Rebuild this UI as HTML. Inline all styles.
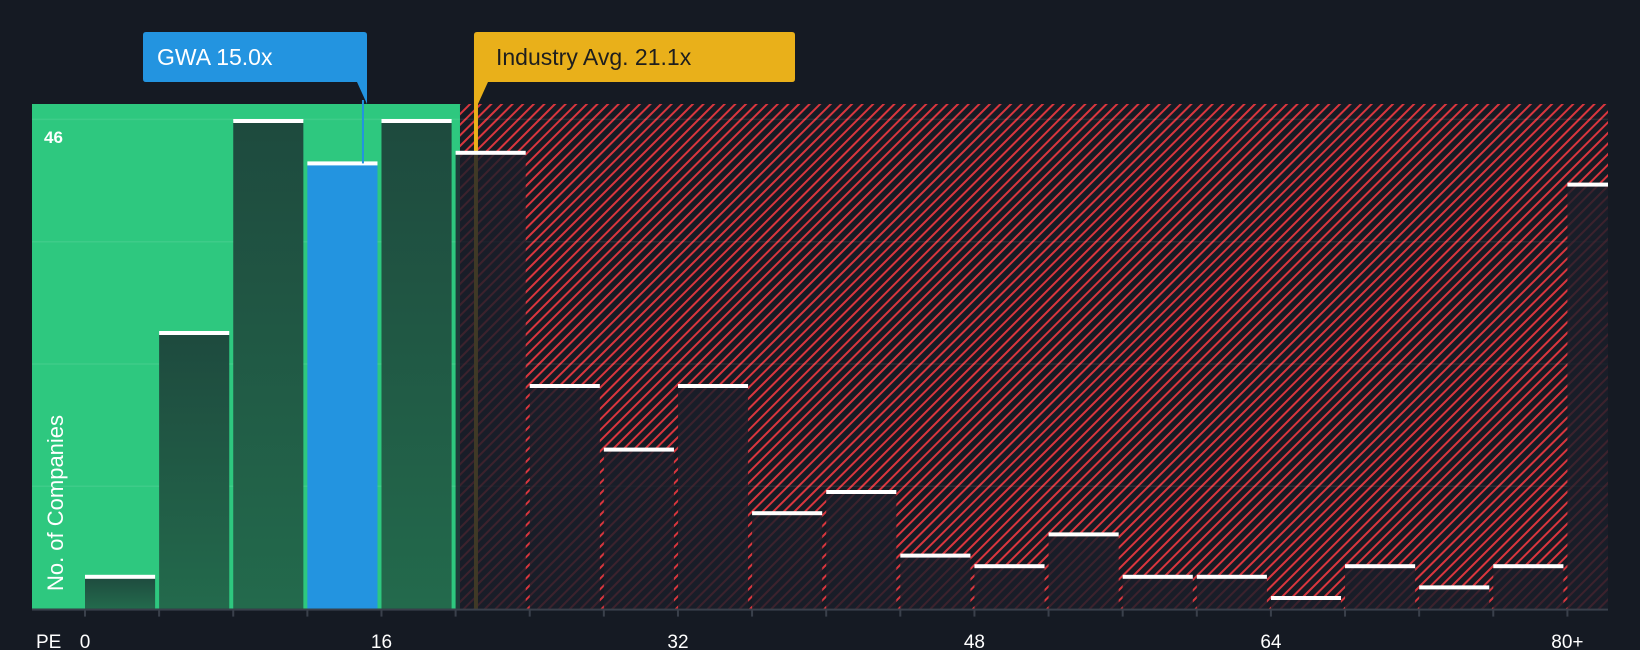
<!DOCTYPE html>
<html><head><meta charset="utf-8"><style>
html,body{margin:0;padding:0;background:#151a23;}
svg{display:block;font-family:"Liberation Sans",sans-serif;}
</style></head><body>
<svg id="chart" width="1640" height="650" viewBox="0 0 1640 650" xmlns="http://www.w3.org/2000/svg">
<defs>
<pattern id="hatch" patternUnits="userSpaceOnUse" width="7.5" height="7.5" patternTransform="rotate(45)">
<rect width="7.5" height="7.5" fill="#161b24"/>
<rect x="0" y="0" width="2" height="7.5" fill="#d9363e"/>
</pattern>
<linearGradient id="gbar" x1="0" y1="0" x2="0" y2="1">
<stop offset="0" stop-color="#1e4a3e"/><stop offset="1" stop-color="#236a4c"/>
</linearGradient>
</defs>
<g id="plot"></g>
</svg>
<script>
const binStarts = [0,4,8,12,16,20,24,28,32,36,40,44,48,52,56,60,64,68,72,76,80];
const counts = [3,26,46,42,46,43,21,15,21,9,11,5,4,7,3,3,1,4,2,4,40];
const xTicks = [0,16,32,48,64,80];
const xTickLabels = ["0","16","32","48","64","80+"];
const companyPE = 15.0;
const industryPE = 21.1;
const yMaxLabel = 46;

const NS="http://www.w3.org/2000/svg";
const g=document.getElementById('plot');
const X0=85, PXU=18.53, BASE=608.6, TOP=104, LEFT=32, RIGHT=1608;
const x=v=>X0+v*PXU;
const y=v=>BASE-(BASE-121)*v/yMaxLabel;
function mk(t,a,p){const e=document.createElementNS(NS,t);for(const k in a)e.setAttribute(k,a[k]);(p||g).appendChild(e);return e;}
const splitX=x(industryPE)-16;
let e=mk('rect',{x:splitX,y:TOP,width:RIGHT-splitX,height:BASE-TOP,fill:'url(#hatch)'});


e=mk('rect',{x:LEFT,y:TOP,width:splitX-LEFT,height:BASE-TOP,fill:'#2ec87f'});


[1,2,3,4].forEach(i=>{
 e=mk('line',{x1:LEFT,x2:RIGHT,y1:BASE-i*122.3,y2:BASE-i*122.3,stroke:'rgba(255,255,255,0.08)','stroke-width':1.5});
 
 
});
e=mk('rect',{x:x(industryPE)-2,y:60,width:4,height:BASE-60,fill:'#e9b01a'});


binStarts.forEach((b,i)=>{
 const bw=(b===80)?(RIGHT-x(80)):4*PXU-4;
 const bx=x(b);
 const top=y(counts[i]);
 const inGreen=bx+bw<=splitX+2;
 const isCo=companyPE>=b&&companyPE<b+4;
 let fill=isCo?'#2394e0':(inGreen?'url(#gbar)':'rgba(26,30,42,0.82)');
 e=mk('rect',{x:bx,y:top,width:bw,height:BASE-top,fill:fill});
 
 
 e=mk('rect',{x:bx,y:top-2,width:bw,height:4,fill:'#ffffff'});
 
 
});
e=mk('rect',{x:LEFT,y:BASE,width:RIGHT-LEFT,height:2,fill:'#3a404b'});


for(let v=0;v<=80;v+=4){
 e=mk('rect',{x:x(v)-1,y:BASE,width:2,height:8,fill:'#3a404b'});
 
 
}
xTicks.forEach((v,i)=>{
 e=mk('text',{x:x(v),y:648,'text-anchor':'middle',fill:'#ffffff','font-size':19});
 e.textContent=xTickLabels[i];
 
 
});
e=mk('text',{x:36,y:648,fill:'#ffffff','font-size':19});
e.textContent='PE';


e=mk('text',{x:44,y:143,fill:'#ffffff','font-size':17,'font-weight':'bold'});
e.textContent=String(yMaxLabel);


e=mk('text',{x:0,y:0,fill:'#ffffff','font-size':22,'text-anchor':'middle',transform:'translate(63,503) rotate(-90)'});
e.textContent='No. of Companies';


const cx=x(companyPE);
e=mk('line',{x1:cx,x2:cx,y1:100,y2:y(counts[3]),stroke:'#2394e0','stroke-width':2});


e=mk('path',{d:`M143 35 Q143 32 146 32 L364 32 Q367 32 367 35 L367 104 L357 82 L146 82 Q143 82 143 79 Z`,fill:'#2394e0'});


e=mk('text',{x:157,y:65,fill:'#ffffff','font-size':23});
e.textContent='GWA '+companyPE.toFixed(1)+'x';


const ix=x(industryPE);
e=mk('path',{d:`M${ix-2} 35 Q${ix-2} 32 ${ix+1} 32 L792 32 Q795 32 795 35 L795 79 Q795 82 792 82 L${ix+12} 82 L${ix+2} 104 L${ix-2} 104 Z`,fill:'#e9b01a'});


e=mk('text',{x:496,y:65,fill:'#1e1e1e','font-size':23});
e.textContent='Industry Avg. '+industryPE.toFixed(1)+'x';


</script>
</body></html>
